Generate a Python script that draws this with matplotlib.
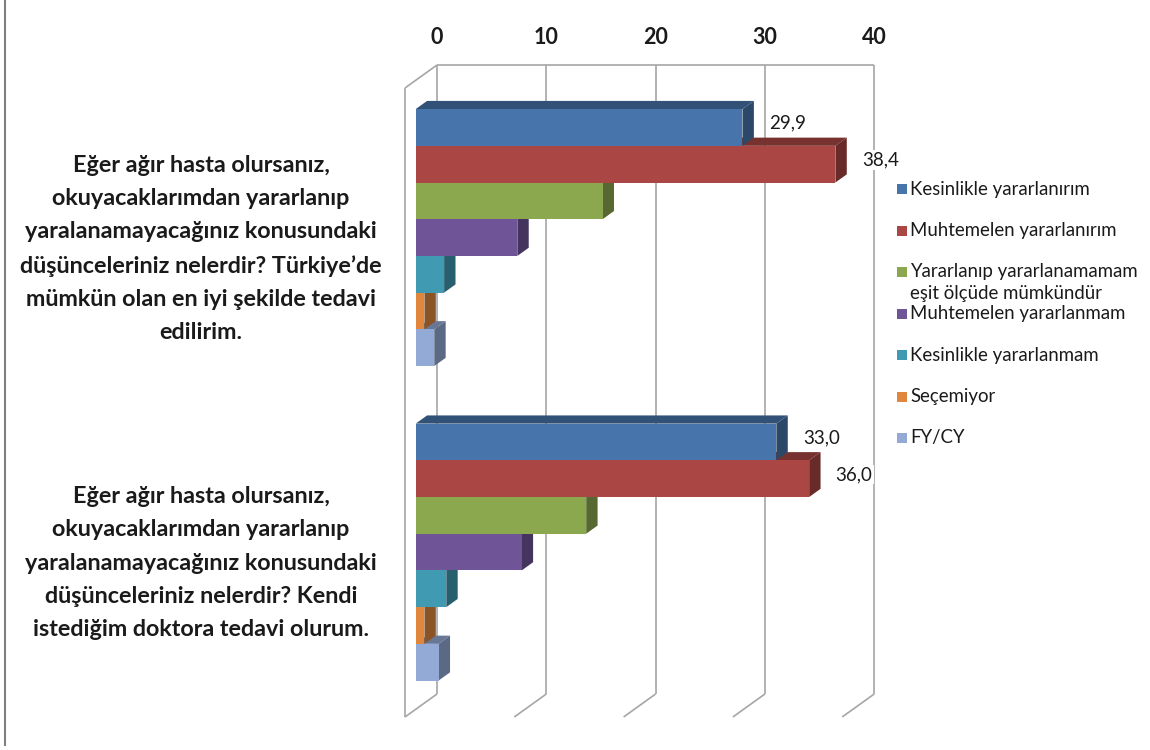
import numpy as np
import matplotlib.pyplot as plt
from matplotlib.patches import Polygon
from matplotlib.lines import Line2D

plt.rcParams['font.family'] = ['Lato', 'DejaVu Sans']

questions = [
    "Eğer ağır hasta olursanız,\nokuyacaklarımdan yararlanıp\nyaralanamayacağınız konusundaki\n"
    "düşünceleriniz nelerdir? Türkiye’de\nmümkün olan en iyi şekilde tedavi\nedilirim.",
    "Eğer ağır hasta olursanız,\nokuyacaklarımdan yararlanıp\nyaralanamayacağınız konusundaki\n"
    "düşünceleriniz nelerdir? Kendi\nistediğim doktora tedavi olurum.",
]
answers = [
    "Kesinlikle yararlanırım",
    "Muhtemelen yararlanırım",
    "Yararlanıp yararlanamamam\neşit ölçüde mümkündür",
    "Muhtemelen yararlanmam",
    "Kesinlikle yararlanmam",
    "Seçemiyor",
    "FY/CY",
]
turkiye = [29.9, 38.4, 17.1, 9.3, 2.6, 0.8, 1.7]
kendi = [33.0, 36.0, 15.6, 9.7, 2.8, 0.8, 2.1]
labelled = [0, 1]  # only the first two answers carry value labels
xticks = [0, 10, 20, 30, 40]
colors = ['#4774AA', '#AA4643', '#8CA84E', '#6F5597', '#3F9AB2', '#E0873D', '#94AAD6']

# pseudo-3d geometry (value units on x, category bands on y)
PX, PY = 10.93, 314.5          # pixels per unit
DX, DY = 32 / PX, 23 / PY      # full depth of the box
D0, D1 = 0.334, 0.69           # depth of bar front / back faces
H = 0.1167                     # bar thickness
W, Hf = 1150, 750


def shade(c, f):
    r, g, b = [int(c[i:i + 2], 16) / 255 for i in (1, 3, 5)]
    return (r * f, g * f, b * f)


fig = plt.figure(figsize=(11.5, 7.5), dpi=100)
ax = fig.add_axes([0, 0, 1, 1])
ax.set_xlim(-405 / PX, (W - 405) / PX)
ax.set_ylim((717 - Hf) / PY, 717 / PY)
ax.axis('off')

grid = dict(color='#A6A6A6', lw=1.2, zorder=1, solid_capstyle='butt')
# back wall gridlines and floor lines
for t in xticks:
    ax.plot([t + DX, t + DX], [DY, 2 + DY], **grid)
    ax.plot([t, t + DX], [0, DY], **grid)
    ax.text(t + DX, (717 - 37) / PY, str(t), ha='center', va='center',
            fontsize=15.5, fontweight='bold', color='#1a1a1a')
ax.plot([DX, xticks[-1] + DX], [2 + DY, 2 + DY], **grid)
# side wall
ax.plot([0, 0], [0, 2], **grid)
ax.plot([0, DX], [2, 2 + DY], **grid)

for yc, vals in zip([1.5, 0.5], [turkiye, kendi]):
    top0 = yc + 3.5 * H
    z = 2
    for i in reversed(range(len(vals))):
        v = vals[i]
        top = top0 - i * H
        bot = top - H
        c = colors[i]
        ax.add_patch(Polygon([(D0 * DX, top + D0 * DY), (v + D0 * DX, top + D0 * DY),
                              (v + D1 * DX, top + D1 * DY), (D1 * DX, top + D1 * DY)],
                             closed=True, fc=shade(c, 0.7), ec='none', zorder=z))
        ax.add_patch(Polygon([(v + D0 * DX, bot + D0 * DY), (v + D0 * DX, top + D0 * DY),
                              (v + D1 * DX, top + D1 * DY), (v + D1 * DX, bot + D1 * DY)],
                             closed=True, fc=shade(c, 0.62), ec='none', zorder=z))
        ax.barh((top + bot) / 2 + D0 * DY, v, height=H, left=D0 * DX,
                color=c, edgecolor='none', zorder=z)
        z += 1
        if i in labelled:
            dm = (D0 + D1) / 2
            ax.text(v + D1 * DX + 15 / PX, (top + bot) / 2 + dm * DY,
                    f"{v:.1f}".replace('.', ','), ha='left', va='center',
                    fontsize=13.5, color='#1a1a1a', zorder=20,
                    bbox=dict(fc='white', ec='none', pad=1))

# category labels on the left
for yp, q in zip([249, 563], questions):
    fig.text(201 / W, 1 - yp / Hf, q, ha='center', va='center', multialignment='center',
             fontsize=16.8, fontweight='bold', color='#1a1a1a', linespacing=1.72)

# legend
for i, (lab, c) in enumerate(zip(answers, colors)):
    yp = 189 + 41.5 * i
    fig.patches.append(plt.Rectangle((897 / W, 1 - (yp + 5) / Hf), 10 / W, 10 / Hf,
                                     transform=fig.transFigure, fc=c, ec='none'))
    for j, line in enumerate(lab.split('\n')):
        fig.text(910 / W, 1 - (yp + 22 * j) / Hf, line, ha='left', va='center',
                 fontsize=13.4, color='#1a1a1a')

fig.add_artist(Line2D([5 / W, 5 / W], [5 / Hf, 1], color='#7f7f7f', lw=1.5))

fig.savefig('out.png', dpi=100, facecolor='white')
